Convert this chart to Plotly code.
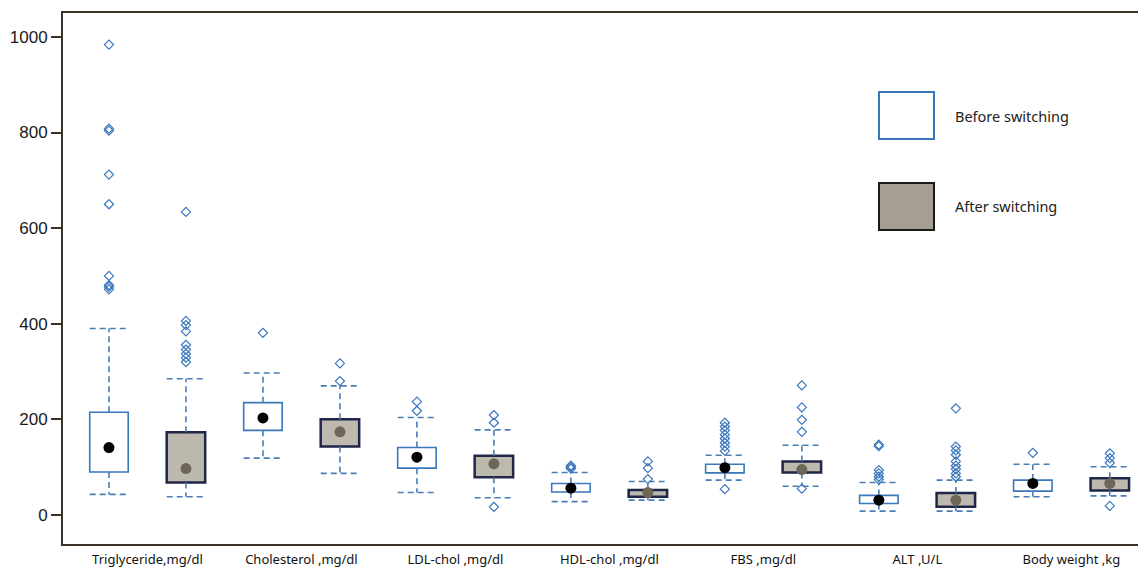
import plotly.graph_objects as go

categories = ["Triglyceride,mg/dl", "Cholesterol ,mg/dl", "LDL-chol ,mg/dl", "HDL-chol ,mg/dl",
              "FBS ,mg/dl", "ALT ,U/L", "Body weight ,kg"]

# Before switching
before_q1 = [90, 177, 98, 48, 88, 24, 50]
before_q3 = [215, 235, 141, 66, 106, 41, 73]
before_med = [141, 203, 121, 56, 99, 31, 66]
before_lo = [43, 119, 47, 28, 73, 8, 38]
before_hi = [390, 297, 204, 89, 125, 68, 106]
before_out = [
    [984, 808, 804, 712, 650, 500, 481, 477, 472],
    [381],
    [237, 218],
    [103, 100, 97],
    [193, 185, 177, 168, 160, 151, 143, 134, 54],
    [147, 144, 94, 87, 80, 74],
    [130],
]

# After switching
after_q1 = [68, 143, 79, 38, 89, 17, 51]
after_q3 = [173, 200, 124, 52, 112, 46, 77]
after_med = [97, 174, 107, 47, 95, 31, 66]
after_lo = [38, 87, 36, 31, 60, 8, 40]
after_hi = [285, 270, 178, 70, 146, 73, 101]
after_out = [
    [634, 406, 397, 384, 356, 346, 337, 329, 320],
    [317, 280],
    [209, 193, 17],
    [112, 98, 75],
    [271, 225, 199, 174, 55],
    [223, 143, 135, 126, 112, 103, 96, 87, 80],
    [129, 119, 109, 19],
]

BLUE = "#3a77bd"
WHISK = "#4a7db5"
NAVY = "#1f2648"
FILL_AFTER = "#bdb9ae"
DOT_AFTER = "#6e6757"
HALF = 0.25

fig = go.Figure()

def add_group(offset, q1, q3, med, lo, hi, outs, fill, edge, edgew, dotcol):
    xs = [2 * i + offset for i in range(len(q1))]
    fig.add_trace(go.Bar(
        x=xs, y=[b - a for a, b in zip(q1, q3)], base=q1, width=2 * HALF,
        marker=dict(color=fill, line=dict(color=edge, width=edgew)),
        showlegend=False, hoverinfo="skip"))
    wx, wy = [], []
    for x, a, b, l, h in zip(xs, q1, q3, lo, hi):
        wx += [x, x, None, x, x, None, x - HALF, x + HALF, None, x - HALF, x + HALF, None]
        wy += [b, h, None, a, l, None, h, h, None, l, l, None]
    fig.add_trace(go.Scatter(x=wx, y=wy, mode="lines",
                             line=dict(color=WHISK, width=1.6, dash="6px,4px"),
                             showlegend=False, hoverinfo="skip"))
    ox, oy = [], []
    for x, o in zip(xs, outs):
        ox += [x] * len(o)
        oy += o
    fig.add_trace(go.Scatter(x=ox, y=oy, mode="markers",
                             marker=dict(symbol="diamond-open", size=7, color=BLUE,
                                         line=dict(width=1.2, color=BLUE)),
                             showlegend=False))
    fig.add_trace(go.Scatter(x=xs, y=med, mode="markers",
                             marker=dict(symbol="circle", size=11, color=dotcol),
                             showlegend=False))

add_group(0, before_q1, before_q3, before_med, before_lo, before_hi, before_out,
          "white", BLUE, 1.6, "black")
add_group(1, after_q1, after_q3, after_med, after_lo, after_hi, after_out,
          FILL_AFTER, NAVY, 2.5, DOT_AFTER)

OFF = 8  # page body margin
W, H = 1146 - OFF, 569 - OFF
L, R, T = 63 - OFF, 0, 13 - OFF
B = H - (544 - OFF)
pw, ph = W - L - R, H - T - B

def px(x):
    return (x - OFF - L) / pw

def py(y):
    return (H - B - (y - OFF)) / ph

fig.add_shape(type="rect", xref="paper", yref="paper",
              x0=px(879), x1=px(934), y0=py(139), y1=py(92),
              line=dict(color=BLUE, width=2), fillcolor="white")
fig.add_shape(type="rect", xref="paper", yref="paper",
              x0=px(879), x1=px(934), y0=py(230), y1=py(183),
              line=dict(color="#1c1a16", width=2), fillcolor="#a59f92")
fig.add_annotation(xref="paper", yref="paper", x=px(953), y=py(116), text="Before switching",
                   showarrow=False, xanchor="left", yanchor="middle",
                   font=dict(family="Noto Sans", size=14.5, color="#222"))
fig.add_annotation(xref="paper", yref="paper", x=px(953), y=py(206), text="After switching",
                   showarrow=False, xanchor="left", yanchor="middle",
                   font=dict(family="Noto Sans", size=14.5, color="#222"))

fig.update_layout(
    width=W, height=H,
    margin=dict(l=L, r=R, t=T, b=B, autoexpand=False),
    plot_bgcolor="white", paper_bgcolor="white",
    barmode="overlay",
    xaxis=dict(range=[-0.597, 13.47], showgrid=False, zeroline=False, automargin=False,
               showline=True, mirror=True, linecolor="#3a3226", linewidth=2,
               tickvals=[2 * i + 0.5 for i in range(len(categories))],
               ticktext=categories, ticks="", ticklabelstandoff=2,
               tickfont=dict(family="Noto Sans", size=13, color="#111")),
    yaxis=dict(range=[-60.7, 1050], showgrid=False, zeroline=False, automargin=False,
               showline=True, linecolor="#3a3226", linewidth=2,
               tickvals=[0, 200, 400, 600, 800, 1000], ticks="outside", ticklen=10,
               tickcolor="#3a3226", tickwidth=2,
               tickfont=dict(family="Liberation Sans", size=17, color="#1a1a1a")),
)

fig.write_html("out.html")
